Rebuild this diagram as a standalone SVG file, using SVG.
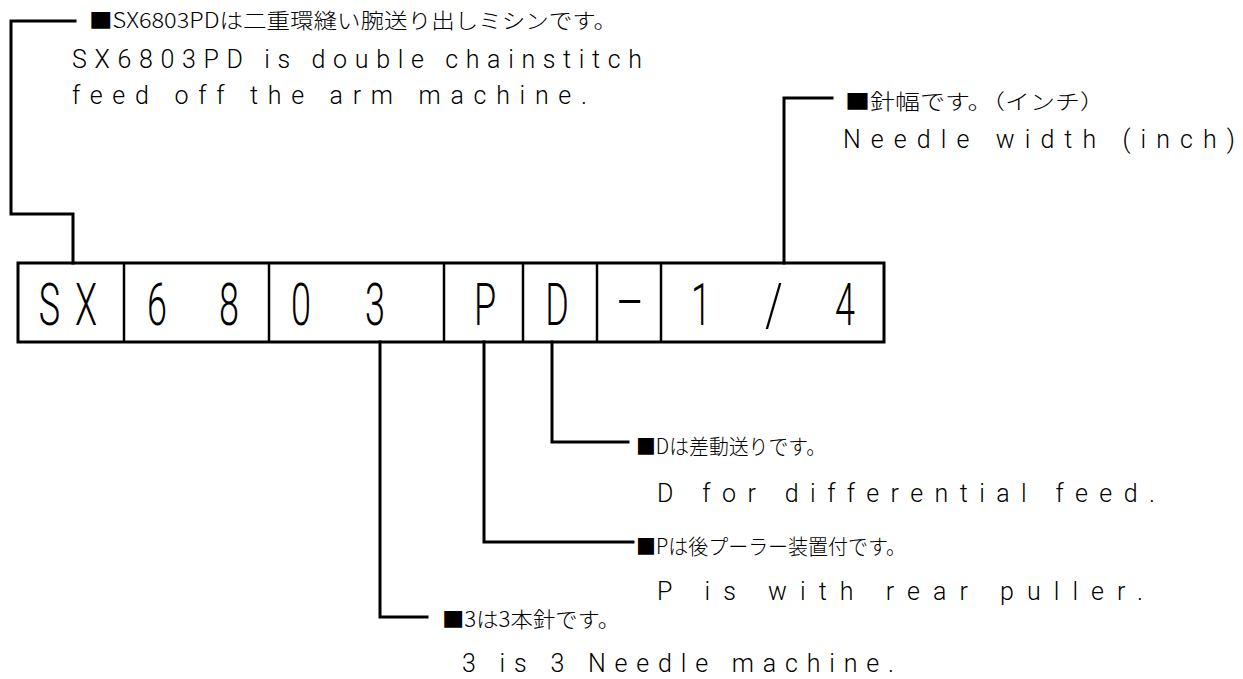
<svg xmlns="http://www.w3.org/2000/svg" width="1243" height="679" viewBox="0 0 1243 679">
<style>
.bg{fill:#ffffff}
.ln{fill:none;stroke:#000;stroke-width:3;stroke-linecap:square;stroke-linejoin:miter}
.box{fill:none;stroke:#000;stroke-width:3}
.dv{stroke:#000;stroke-width:2.5}
.en{font-family:"Roboto","Liberation Sans",sans-serif;font-weight:300;font-size:25px;fill:#000}
.jp{font-family:"Noto Sans CJK JP","Liberation Sans",sans-serif;font-weight:300;font-size:21px;fill:#000}
.bx{font-family:"Roboto","Liberation Sans",sans-serif;font-weight:300;font-size:60px;fill:#000;text-anchor:middle}
</style>
<rect class="bg" x="0" y="0" width="1243" height="679"/>

<g id="connectors">
<polyline class="ln" points="73,263 73,214 11,214 11,21 75,21"/>
<polyline class="ln" points="784,263 784,98 832,98"/>
<polyline class="ln" points="552,342 552,442 628,442"/>
<polyline class="ln" points="484,342 484,542 633,542"/>
<polyline class="ln" points="380,342 380,617 427,617"/>
</g>

<g id="model-box">
<rect class="box" x="18" y="263" width="866" height="79"/>
<line class="dv" x1="124" y1="263" x2="124" y2="342"/>
<line class="dv" x1="269" y1="263" x2="269" y2="342"/>
<line class="dv" x1="444" y1="263" x2="444" y2="342"/>
<line class="dv" x1="523" y1="263" x2="523" y2="342"/>
<line class="dv" x1="597" y1="263" x2="597" y2="342"/>
<line class="dv" x1="661" y1="263" x2="661" y2="342"/>
<text class="bx" transform="translate(49.5,325) scale(0.6,1)">S</text>
<text class="bx" transform="translate(86,325) scale(0.6,1)">X</text>
<text class="bx" transform="translate(157,325) scale(0.6,1)">6</text>
<text class="bx" transform="translate(229,325) scale(0.6,1)">8</text>
<text class="bx" transform="translate(301,325) scale(0.6,1)">0</text>
<text class="bx" transform="translate(375,325) scale(0.6,1)">3</text>
<text class="bx" transform="translate(485,325) scale(0.6,1)">P</text>
<text class="bx" transform="translate(557,325) scale(0.6,1)">D</text>
<text class="bx" transform="translate(630,320) scale(1.5,1)">-</text>
<text class="bx" transform="translate(701,325) scale(0.6,1)">1</text>
<text class="bx" transform="translate(774,325) scale(0.75,1)">/</text>
<text class="bx" transform="translate(845,325) scale(0.6,1)">4</text>
</g>

<g id="label-model">
<text class="jp" x="89" y="28" textLength="528" lengthAdjust="spacingAndGlyphs">■SX6803PDは二重環縫い腕送り出しミシンです。</text>
<text class="en" x="72" y="68" textLength="570" lengthAdjust="spacing">SX6803PD is double chainstitch</text>
<text class="en" x="72" y="104" textLength="515" lengthAdjust="spacing">feed off the arm machine.</text>
</g>

<g id="label-width">
<text class="jp" x="845" y="109" textLength="260" lengthAdjust="spacingAndGlyphs">■針幅です。（インチ）</text>
<text class="en" x="843" y="148" textLength="392" lengthAdjust="spacing">Needle width (inch)</text>
</g>

<g id="label-d">
<text class="jp" x="636" y="454" textLength="190" lengthAdjust="spacingAndGlyphs">■Dは差動送りです。</text>
<text class="en" x="657" y="502" textLength="498" lengthAdjust="spacing">D for differential feed.</text>
</g>

<g id="label-p">
<text class="jp" x="636" y="554" textLength="270" lengthAdjust="spacingAndGlyphs">■Pは後プーラー装置付です。</text>
<text class="en" x="657" y="600" textLength="486" lengthAdjust="spacing">P is with rear puller.</text>
</g>

<g id="label-3">
<text class="jp" x="442" y="627" textLength="178" lengthAdjust="spacingAndGlyphs">■3は3本針です。</text>
<text class="en" x="462" y="672" textLength="432" lengthAdjust="spacing">3 is 3 Needle machine.</text>
</g>
</svg>
